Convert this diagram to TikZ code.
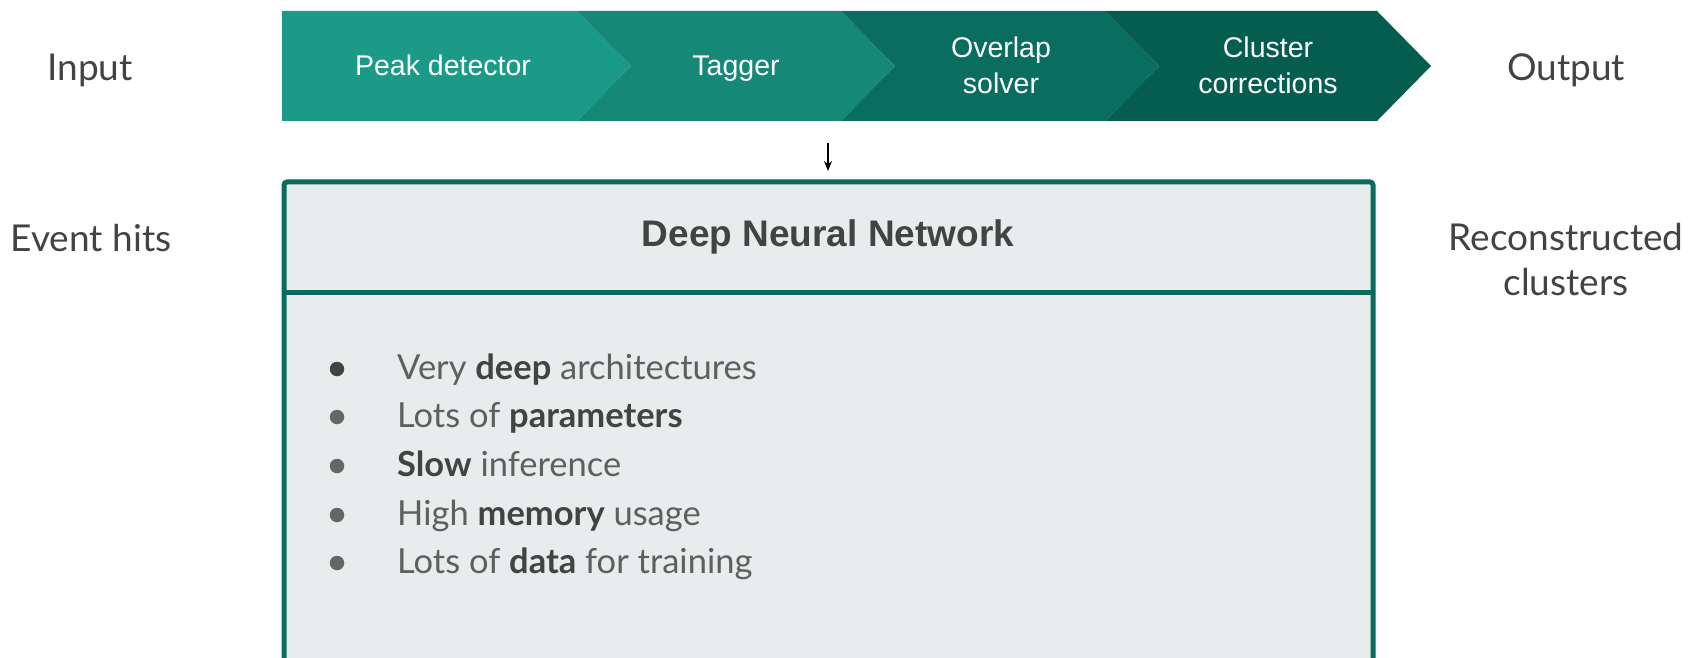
\documentclass[tikz,border=0pt]{standalone}
\usepackage{fontspec}
\setmainfont{Lato}
\newfontfamily\chevfont{Liberation Sans}
\usetikzlibrary{arrows.meta}
\definecolor{cA}{RGB}{27,154,136}
\definecolor{cB}{RGB}{21,136,119}
\definecolor{cC}{RGB}{9,110,95}
\definecolor{cD}{RGB}{5,93,80}
\definecolor{boxline}{RGB}{10,108,94}
\definecolor{boxfill}{RGB}{232,236,237}
\definecolor{labelgray}{RGB}{67,67,67}
\definecolor{textgray}{RGB}{95,95,95}
\definecolor{dotgray}{RGB}{102,102,102}
\definecolor{boldgray}{RGB}{67,67,67}
\tikzset{
  sidelabel/.style={text=labelgray,font=\fontsize{37}{45}\selectfont,align=center,inner sep=0pt},
  chevtext/.style={text=white,font=\chevfont\fontsize{28.5}{36}\selectfont,align=center,inner sep=0pt},
  titletext/.style={text=labelgray,font=\chevfont\bfseries\fontsize{37}{40}\selectfont,inner sep=0pt},
  bullettext/.style={text=textgray,font=\fontsize{34.5}{40}\selectfont,anchor=west,inner sep=0pt},
  bulletdot/.style={circle,fill=dotgray,minimum size=14.5pt,inner sep=0pt},
}
\newcommand{\bw}[1]{{\bfseries\color{boldgray}#1}}
\begin{document}
\begin{tikzpicture}[x=1pt,y=-1pt]
\useasboundingbox (0,0) rectangle (1690,658);
% chevrons
\fill[cA] (282,11) -- (577,11) -- (631,66) -- (577,121) -- (282,121) -- cycle;
\fill[cB] (577,11) -- (841,11) -- (895,66) -- (841,121) -- (577,121) -- (631,66) -- cycle;
\fill[cC] (841,11) -- (1105,11) -- (1159,66) -- (1105,121) -- (841,121) -- (895,66) -- cycle;
\fill[cD] (1105,11) -- (1377,11) -- (1431,66) -- (1377,121) -- (1105,121) -- (1159,66) -- cycle;
\node[chevtext] (peak) at (443,68) {\strut Peak detector};
\node[chevtext] (tagger) at (736,68) {\strut Tagger};
\node[chevtext] (overlap) at (1001,68) {\strut Overlap\\\strut solver};
\node[chevtext] (cluster) at (1268,68) {\strut Cluster\\\strut corrections};
% side labels
\node[sidelabel] (input) at (90,72) {\strut Input};
\node[sidelabel] (output) at (1566,72) {\strut Output};
\node[sidelabel] (event) at (91,242) {\strut Event hits};
\node[sidelabel] (recon) at (1566,264) {\strut Reconstructed\\\strut clusters};
% box
\draw[boxline,line width=5pt,fill=boxfill,rounded corners=3pt] (284,182) rectangle (1373,700);
\draw[boxline,line width=5pt] (284,292) -- (1373,292);
\node[titletext] (title) at (828,237) {Deep Neural Network};
% arrow
\coordinate (arrS) at (828,143);
\coordinate (arrE) at (828,171);
\draw[black,line width=1.3pt,-{Stealth[length=10pt,width=8pt]}] (arrS) -- (arrE);
% bullets
\node[bulletdot,fill=labelgray] (b1) at (337,369) {};
\node[bulletdot] (b2) at (337,417) {};
\node[bulletdot] (b3) at (337,466) {};
\node[bulletdot] (b4) at (337,515) {};
\node[bulletdot] (b5) at (337,563) {};
\node[bullettext] (t1) at (397,371) {\strut Very \bw{deep} architectures};
\node[bullettext] (t2) at (397,419) {\strut Lots of \bw{parameters}};
\node[bullettext] (t3) at (397,468) {\strut \bw{Slow} inference};
\node[bullettext] (t4) at (397,517) {\strut High \bw{memory} usage};
\node[bullettext] (t5) at (397,565) {\strut Lots of \bw{data} for training};
\end{tikzpicture}
\end{document}
